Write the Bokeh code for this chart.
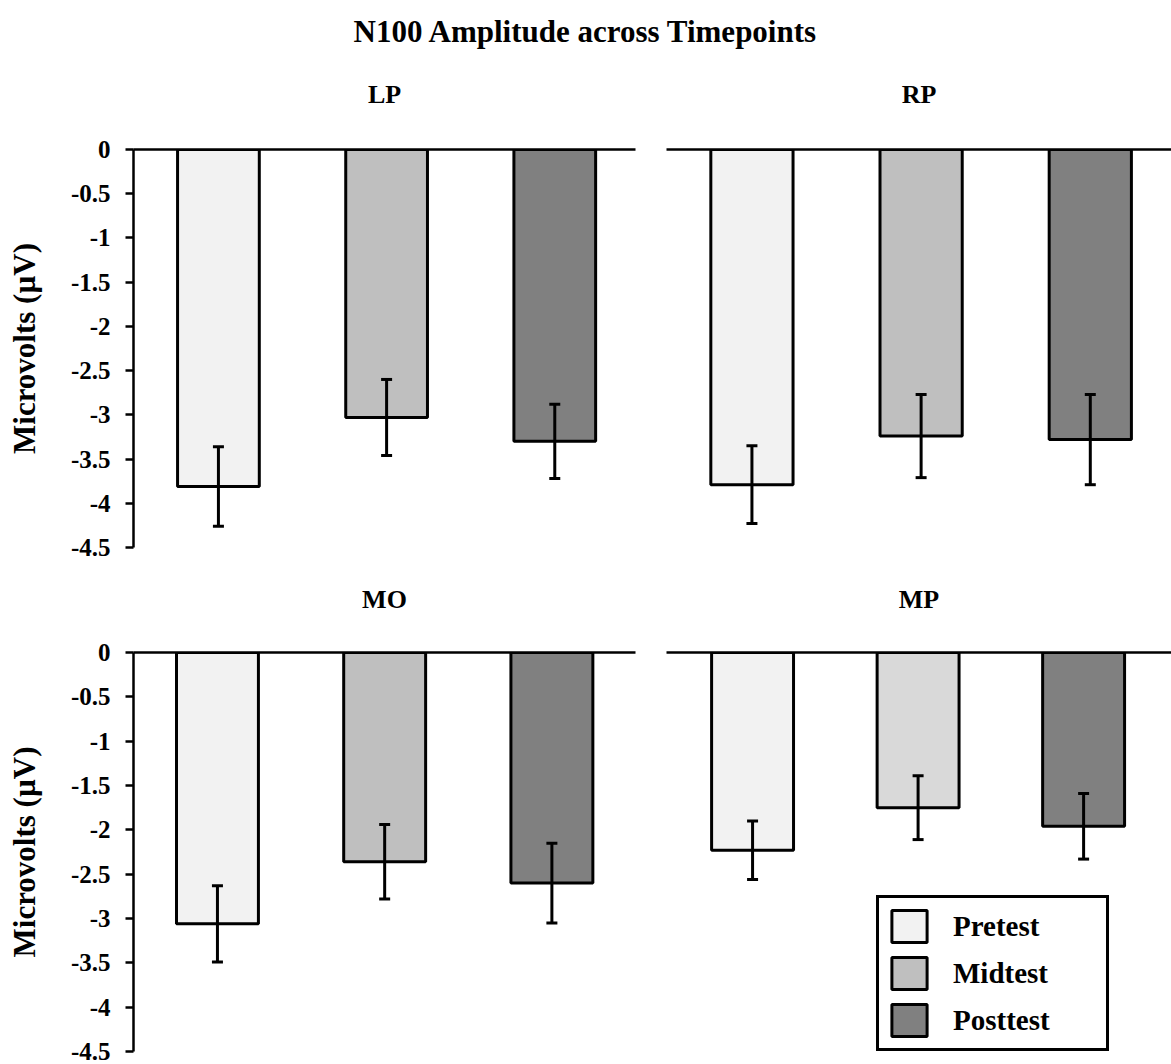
from bokeh.plotting import figure
from bokeh.models import (ColumnDataSource, Whisker, TeeHead, FixedTicker, CustomJSTickFormatter,
                          Legend, LegendItem, Range1d)
from bokeh.layouts import column, row
from bokeh.embed import file_html
from bokeh.resources import INLINE

# ---------------- data ----------------
timepoints = ["Pretest", "Midtest", "Posttest"]
lp_mean = [-3.81, -3.03, -3.30]
lp_err = [0.45, 0.43, 0.42]
rp_mean = [-3.79, -3.24, -3.28]
rp_err = [0.44, 0.47, 0.51]
mo_mean = [-3.06, -2.36, -2.60]
mo_err = [0.43, 0.42, 0.45]
mp_mean = [-2.23, -1.75, -1.96]
mp_err = [0.33, 0.36, 0.37]
y_ticks = [0, -0.5, -1, -1.5, -2, -2.5, -3, -3.5, -4, -4.5]

# ---------------- styles ----------------
FONT = "Liberation Serif"
BAR_COLORS = ["#f2f2f2", "#bfbfbf", "#808080"]
MP_COLORS = ["#f2f2f2", "#d9d9d9", "#808080"]
LW = 3


def make_source(means, errs, colors):
    xs = [i + 1 for i in range(len(timepoints))]
    return ColumnDataSource(dict(
        x=xs, mean=means,
        upper=[m + e for m, e in zip(means, errs)],
        lower=[m - e for m, e in zip(means, errs)],
        color=colors, tp=timepoints))


def panel(name, src, left_axis, width, height, mb_left, mb_right, mb_top, mb_bottom,
          xr=(0.495, 3.48), bar_w=0.486, name_standoff=41):
    p = figure(width=width, height=height,
               x_range=Range1d(*xr), y_range=Range1d(-4.5, 0),
               x_axis_location="above", y_axis_location="left" if left_axis else None,
               output_backend="svg", toolbar_location=None,
               min_border_left=mb_left, min_border_right=mb_right,
               min_border_top=mb_top, min_border_bottom=mb_bottom)
    p.outline_line_color = None
    p.xgrid.visible = False
    p.ygrid.visible = False

    # the zero line (axis at the top) carries the panel name as its label
    xa = p.xaxis[0]
    xa.ticker = FixedTicker(ticks=[])
    xa.major_label_text_font_size = "0px"
    xa.major_label_standoff = 0
    xa.major_tick_line_color = None
    xa.minor_tick_line_color = None
    xa.axis_line_width = 2.5
    xa.axis_line_color = "black"
    xa.axis_label = name
    xa.axis_label_text_font = FONT
    xa.axis_label_text_font_size = "26px"
    xa.axis_label_text_font_style = "bold"
    xa.axis_label_text_color = "black"
    xa.axis_label_standoff = name_standoff

    if left_axis:
        ya = p.yaxis[0]
        ya.ticker = FixedTicker(ticks=y_ticks)
        ya.formatter = CustomJSTickFormatter(code="return tick.toString()")
        ya.axis_line_width = 2.5
        ya.axis_line_color = "black"
        ya.major_tick_line_width = 2.5
        ya.major_tick_line_color = "black"
        ya.major_tick_in = 0
        ya.major_tick_out = 8
        ya.minor_tick_line_color = None
        ya.major_label_text_font = FONT
        ya.major_label_text_font_style = "bold"
        ya.major_label_text_font_size = "25px"
        ya.major_label_text_color = "black"
        ya.major_label_standoff = 15
        ya.axis_label = "Microvolts (µV)"
        ya.axis_label_text_font = FONT
        ya.axis_label_text_font_style = "bold"
        ya.axis_label_text_font_size = "31px"
        ya.axis_label_text_color = "black"
        ya.axis_label_standoff = 26

    p.vbar(x="x", width=bar_w, top=0, bottom="mean", fill_color="color",
           line_color="black", line_width=LW, source=src)
    w = Whisker(source=src, base="x", upper="upper", lower="lower",
                line_width=LW, line_color="black", level="annotation",
                upper_head=TeeHead(size=11, line_width=LW, line_color="black"),
                lower_head=TeeHead(size=11, line_width=LW, line_color="black"))
    p.add_layout(w)
    return p


LEFT_W, RIGHT_W = 650, 521
src_lp = make_source(lp_mean, lp_err, BAR_COLORS)
src_rp = make_source(rp_mean, rp_err, BAR_COLORS)
src_mo = make_source(mo_mean, mo_err, BAR_COLORS)
src_mp = make_source(mp_mean, mp_err, MP_COLORS)
p_lp = panel("LP", src_lp, True, LEFT_W, 500, 133, 15, 89, 13, name_standoff=41)
p_rp = panel("RP", src_rp, False, RIGHT_W, 500, 16, 0, 89, 13, name_standoff=41)
p_mo = panel("MO", src_mo, True, LEFT_W, 504, 133, 15, 92, 13,
             xr=(0.498, 3.50), bar_w=0.49, name_standoff=39)
p_mp = panel("MP", src_mp, False, RIGHT_W, 504, 16, 0, 92, 13,
             xr=(0.480, 3.531), bar_w=0.495, name_standoff=39)

# legend: hidden renderers carrying the standard timepoint colours
items = []
for tp, c in zip(timepoints, BAR_COLORS):
    r = p_mp.vbar(x="x", width=0.495, top=0, bottom="mean", fill_color=c,
                  line_color="black", line_width=LW, source=src_mp, visible=False)
    items.append(LegendItem(label=tp, renderers=[r]))
legend = Legend(items=items, location=(210, 0), margin=0, padding=8, spacing=7,
                glyph_width=44, glyph_height=40, label_standoff=22, label_width=145,
                border_line_color="black", border_line_width=3, border_line_alpha=1,
                background_fill_color="white", background_fill_alpha=1,
                inactive_fill_alpha=0,
                label_text_font=FONT, label_text_font_style="bold",
                label_text_font_size="29px", label_text_color="black")
p_mp.add_layout(legend)

# header with main title
hdr = figure(width=1171, height=60, x_axis_location=None, y_axis_location=None,
             output_backend="svg", toolbar_location=None)
hdr.min_border_left = 0
hdr.min_border_right = 0
hdr.min_border_bottom = 0
hdr.min_border_top = 0
hdr.title.text = "N100 Amplitude across Timepoints"
hdr.title.align = "center"
hdr.title.text_font = FONT
hdr.title.text_font_size = "31px"
hdr.title.text_font_style = "bold"
hdr.title.text_color = "black"
hdr.title.standoff = 22
hdr.outline_line_color = None
hdr.xgrid.visible = False
hdr.ygrid.visible = False

layout = column(hdr, row(p_lp, p_rp), row(p_mo, p_mp))
open("out.html", "w").write(file_html(layout, INLINE))
